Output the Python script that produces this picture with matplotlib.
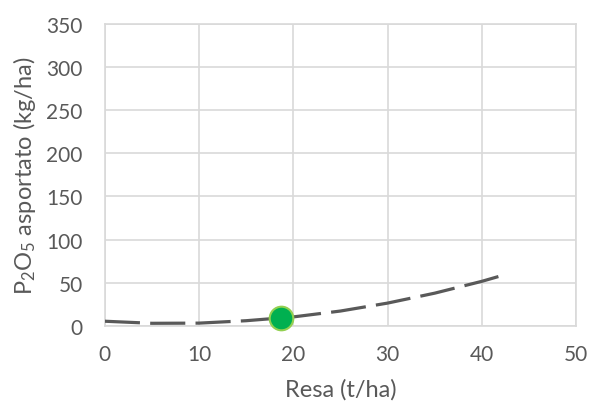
import matplotlib.pyplot as plt

# yield (t/ha) vs P2O5 removed (kg/ha)
resa = [0, 5, 10, 15, 20, 25, 30, 35, 40, 42]
p2o5 = [5.5, 3.1, 3.3, 6.1, 10.5, 17.3, 26.5, 38.0, 51.7, 58.0]

# single highlighted point
punto_x = [18.7]
punto_y = [9.5]

x_ticks = [0, 10, 20, 30, 40, 50]
y_ticks = [0, 50, 100, 150, 200, 250, 300, 350]

testo = '#595959'
griglia = '#D9D9D9'

plt.rcParams['font.family'] = ['Lato', 'DejaVu Sans']
plt.rcParams['mathtext.default'] = 'regular'

fig = plt.figure(figsize=(5.89, 4.10), dpi=100)
ax = fig.add_axes([0.178, 0.2025, 0.800, 0.737])

ax.plot(resa, p2o5, color='#595959', lw=2.3, dashes=(11, 3.2),
        solid_capstyle='butt', dash_capstyle='butt', zorder=3)
ax.plot(punto_x, punto_y, 'o', ms=17, mfc='#00B050', mec='#92D050',
        mew=1.5, zorder=4, clip_on=False)

ax.set_xlim(0, 50)
ax.set_ylim(0, 350)
ax.set_xticks(x_ticks)
ax.set_yticks(y_ticks)
ax.grid(True, color=griglia, lw=1.2)
ax.set_axisbelow(True)
for s in ax.spines.values():
    s.set_color(griglia)
    s.set_linewidth(1.2)

ax.tick_params(axis='both', length=0, labelsize=15, labelcolor=testo)
ax.tick_params(axis='y', pad=16)
ax.tick_params(axis='x', pad=13)

ax.set_xlabel('Resa (t/ha)', fontsize=17, color=testo, labelpad=10)
ax.set_ylabel('P$_2$O$_5$ asportato (kg/ha)', fontsize=17, color=testo,
              labelpad=6)

fig.savefig('out.png', dpi=100)
